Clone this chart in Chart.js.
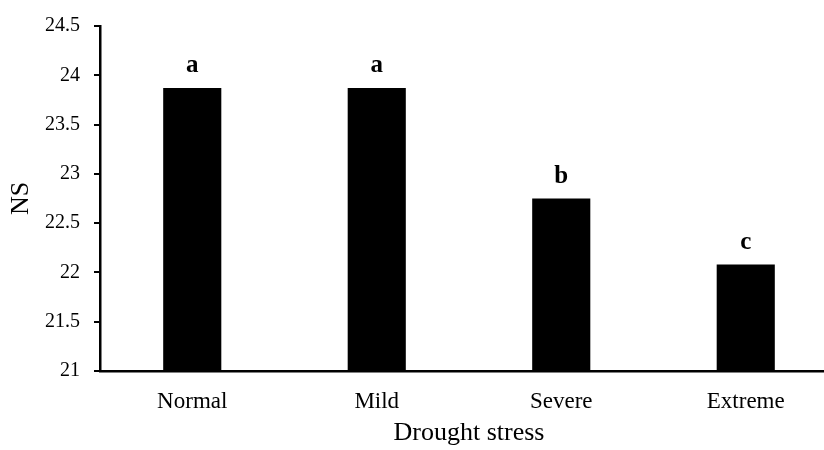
<!DOCTYPE html>
<html>
<head>
<meta charset="utf-8">
<script src="https://cdn.jsdelivr.net/npm/chart.js@4"></script>
<style>
  body { margin: 0; overflow: hidden; background: #fff; }
  #wrap { width: 840px; height: 450px; }
</style>
</head>
<body>
<div id="wrap"><canvas id="myChart"></canvas></div>
<script>
const categories = ['Normal', 'Mild', 'Severe', 'Extreme'];
const nsValues = [23.87, 23.87, 22.75, 22.08];
const groupLetters = ['a', 'a', 'b', 'c'];
const yTicks = [21, 21.5, 22, 22.5, 23, 23.5, 24, 24.5];

const serif = "'Liberation Serif', 'Times New Roman', serif";

// letters of significance above each bar
const letterPlugin = {
  id: 'letters',
  afterDatasetsDraw(chart) {
    const ctx = chart.ctx;
    const meta = chart.getDatasetMeta(0);
    ctx.save();
    ctx.fillStyle = '#000';
    ctx.font = 'bold 25px ' + serif;
    ctx.textAlign = 'center';
    ctx.textBaseline = 'alphabetic';
    meta.data.forEach((bar, i) => {
      ctx.fillText(groupLetters[i], bar.x, bar.y - 16);
    });
    ctx.restore();
  }
};

const ctx = document.getElementById('myChart');

new Chart(ctx, {
  type: 'bar',
  data: {
    labels: categories,
    datasets: [{
      label: 'NS',
      data: nsValues,
      backgroundColor: '#000',
      borderWidth: 0,
      categoryPercentage: 1,
      barPercentage: 0.315
    }]
  },
  options: {
    responsive: true,
    maintainAspectRatio: false,
    animation: false,
    layout: {
      padding: { top: 25, right: 2, left: 0, bottom: 0 }
    },
    plugins: {
      legend: { display: false },
      tooltip: { enabled: false }
    },
    scales: {
      x: {
        grid: { drawOnChartArea: false, drawTicks: false },
        border: { color: '#000', width: 2.5 },
        ticks: {
          color: '#000',
          padding: 17,
          font: { family: serif, size: 23 }
        },
        title: {
          display: true,
          text: 'Drought stress',
          color: '#000',
          padding: { top: 0, bottom: 1 },
          font: { family: serif, size: 26 }
        },
        afterFit(scale) { scale.height = 79; }
      },
      y: {
        min: yTicks[0],
        max: yTicks[yTicks.length - 1],
        afterBuildTicks(scale) {
          scale.ticks = yTicks.map(v => ({ value: v }));
        },
        grid: {
          drawOnChartArea: false,
          drawTicks: true,
          tickLength: 6,
          color: '#000',
          lineWidth: 2
        },
        border: { color: '#000', width: 2.5 },
        ticks: {
          color: '#000',
          padding: 14,
          font: { family: serif, size: 20 },
          callback: v => String(v)
        },
        title: {
          display: true,
          text: 'NS',
          color: '#000',
          padding: { top: 6, bottom: 0 },
          font: { family: serif, size: 26 }
        },
        afterFit(scale) { scale.width = 100; }
      }
    }
  },
  plugins: [letterPlugin]
});
</script>
</body>
</html>
